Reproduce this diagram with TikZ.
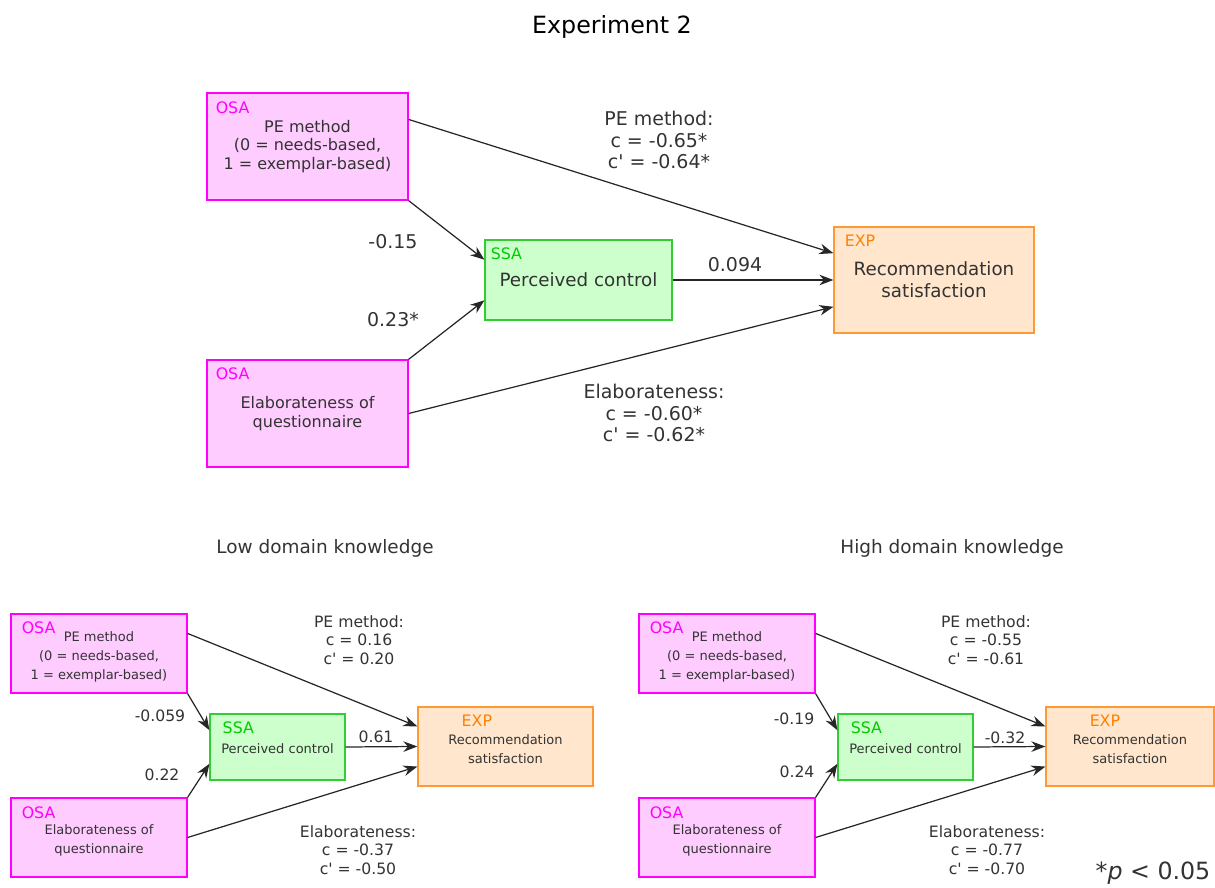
\documentclass[tikz,border=0pt]{standalone}
\usepackage{fontspec}
\setmainfont{DejaVu Sans}
\usepackage{xcolor}
\usetikzlibrary{arrows.meta, calc}

\definecolor{osafill}{HTML}{FFCCFF}
\definecolor{osaline}{HTML}{FF00FF}
\definecolor{ssafill}{HTML}{CCFFCC}
\definecolor{ssaline}{HTML}{33CC33}
\definecolor{ssatext}{HTML}{00CC00}
\definecolor{expfill}{HTML}{FFE6CC}
\definecolor{expline}{HTML}{FF9933}
\definecolor{exptext}{HTML}{FF8000}
\definecolor{txt}{HTML}{333333}

\tikzset{
  rbox/.style={rectangle, draw, line width=0.7pt, align=center, text=txt, inner sep=0pt},
  osabox/.style={rbox, fill=osafill, draw=osaline},
  ssabox/.style={rbox, fill=ssafill, draw=ssaline},
  expbox/.style={rbox, fill=expfill, draw=expline},
  tag/.style={anchor=west, inner sep=0pt, font=\fontsize{9}{10}\selectfont},
  osatag/.style={tag, text=osaline},
  ssatag/.style={tag, text=ssatext},
  exptag/.style={tag, text=exptext},
  bigtext/.style={font=\fontsize{9.1}{10.5}\selectfont},
  mediumtext/.style={font=\fontsize{10.4}{12.5}\selectfont},
  smalltext/.style={font=\fontsize{7.4}{10.8}\selectfont},
  bigweight/.style={text=txt, align=center, inner sep=0pt, font=\fontsize{10.8}{12.2}\selectfont},
  smallweight/.style={text=txt, align=center, inner sep=0pt, font=\fontsize{8.9}{10.5}\selectfont},
  heading/.style={text=txt, inner sep=0pt, font=\fontsize{10.5}{12}\selectfont},
  link/.style={-{Stealth[length=8pt,width=6pt]}, line width=0.7pt, draw=black!85}
}

\newcommand{\cq}{c\textquotesingle}
\newcommand{\dn}{\rule{0pt}{9pt}}

\begin{document}
\begin{tikzpicture}[x=0.02cm, y=-0.02cm]
  \useasboundingbox (0,0) rectangle (1215,888);

  \node[text=black, inner sep=0pt, font=\fontsize{13.5}{15}\selectfont] (title) at (612,27) {Experiment 2};

  % top model
  \node[osabox, bigtext, minimum width=4.02cm, minimum height=2.14cm,
        label={[osatag, xshift=0.18cm, yshift=-0.3cm]north west:OSA}] (osaA) at (307.5,146.5)
        {PE method\\(0 = needs-based,\\1 = exemplar-based)};
  \node[ssabox, mediumtext, minimum width=3.74cm, minimum height=1.6cm,
        label={[ssatag, xshift=0.12cm, yshift=-0.28cm]north west:SSA}] (ssa) at (578.5,280)
        {Perceived control};
  \node[expbox, mediumtext, minimum width=4cm, minimum height=2.12cm,
        label={[exptag, xshift=0.22cm, yshift=-0.28cm]north west:EXP}] (exp) at (934,280)
        {Recommendation\\satisfaction};
  \node[osabox, bigtext, minimum width=4.02cm, minimum height=2.14cm,
        label={[osatag, xshift=0.18cm, yshift=-0.28cm]north west:OSA}] (osaB) at (307.5,413.5)
        {Elaborateness of\\questionnaire};

  \draw[link] ($(osaA.north east)!.25!(osaA.south east)$) -- ($(exp.north west)!.25!(exp.south west)$);
  \draw[link] (osaA.south east) -- ($(ssa.north west)!.25!(ssa.south west)$);
  \draw[link] (osaB.north east) -- ($(ssa.north west)!.75!(ssa.south west)$);
  \draw[link] (osaB.east) -- ($(exp.north west)!.75!(exp.south west)$);
  \draw[link] (ssa.east) -- (exp.west);

  \node[bigweight] (wa) at (393,242) {-0.15};
  \node[bigweight] (wb) at (393,320) {0.23*};
  \node[bigweight] (wc) at (735,265) {0.094};
  \node[bigweight] (ca) at (659,140) {PE method:\\c = -0.65*\\\cq{} = -0.64*};
  \node[bigweight] (cb) at (654,413) {Elaborateness:\\c = -0.60*\\\cq{} = -0.62*};

  % low domain knowledge
  \node[heading] (lowtitle) at (325,548) {Low domain knowledge};
  \node[osabox, smalltext, minimum width=3.52cm, minimum height=1.58cm,
        label={[osatag, xshift=0.22cm, yshift=-0.28cm]north west:OSA}] (lowosaA) at (99,653.5)
        {\dn PE method\\(0 = needs-based,\\1 = exemplar-based)};
  \node[ssabox, smalltext, minimum width=2.7cm, minimum height=1.32cm,
        label={[ssatag, xshift=0.26cm, yshift=-0.28cm]north west:SSA}] (lowssa) at (277.5,747)
        {\rule{0pt}{7.5pt}Perceived control};
  \node[expbox, smalltext, minimum width=3.5cm, minimum height=1.58cm,
        label={[exptag, xshift=0.88cm, yshift=-0.28cm]north west:EXP}] (lowexp) at (505.5,746.5)
        {\dn Recommendation\\satisfaction};
  \node[osabox, smalltext, minimum width=3.52cm, minimum height=1.58cm,
        label={[osatag, xshift=0.22cm, yshift=-0.3cm]north west:OSA}] (lowosaB) at (99,837.5)
        {\dn Elaborateness of\\questionnaire};

  \draw[link] ($(lowosaA.north east)!.25!(lowosaA.south east)$) -- ($(lowexp.north west)!.25!(lowexp.south west)$);
  \draw[link] (lowosaA.south east) -- ($(lowssa.north west)!.25!(lowssa.south west)$);
  \draw[link] (lowosaB.north east) -- ($(lowssa.north west)!.75!(lowssa.south west)$);
  \draw[link] (lowosaB.east) -- ($(lowexp.north west)!.75!(lowexp.south west)$);
  \draw[link] (lowssa.east) -- (lowexp.west);

  \node[smallweight] (lowwa) at (160,716) {-0.059};
  \node[smallweight] (lowwb) at (162,775) {0.22};
  \node[smallweight] (lowwc) at (376,737) {0.61};
  \node[smallweight] (lowca) at (359,640) {PE method:\\c = 0.16\\\cq{} = 0.20};
  \node[smallweight] (lowcb) at (358,850) {Elaborateness:\\c = -0.37\\\cq{} = -0.50};

  % high domain knowledge
  \node[heading] (hightitle) at (952,548) {High domain knowledge};
  \node[osabox, smalltext, minimum width=3.52cm, minimum height=1.58cm,
        label={[osatag, xshift=0.22cm, yshift=-0.28cm]north west:OSA}] (highosaA) at (727,653.5)
        {\dn PE method\\(0 = needs-based,\\1 = exemplar-based)};
  \node[ssabox, smalltext, minimum width=2.7cm, minimum height=1.32cm,
        label={[ssatag, xshift=0.26cm, yshift=-0.28cm]north west:SSA}] (highssa) at (905.5,747)
        {\rule{0pt}{7.5pt}Perceived control};
  \node[expbox, smalltext, minimum width=3.36cm, minimum height=1.58cm,
        label={[exptag, xshift=0.88cm, yshift=-0.28cm]north west:EXP}] (highexp) at (1130,746.5)
        {\dn Recommendation\\satisfaction};
  \node[osabox, smalltext, minimum width=3.52cm, minimum height=1.58cm,
        label={[osatag, xshift=0.22cm, yshift=-0.3cm]north west:OSA}] (highosaB) at (727,837.5)
        {\dn Elaborateness of\\questionnaire};

  \draw[link] ($(highosaA.north east)!.25!(highosaA.south east)$) -- ($(highexp.north west)!.25!(highexp.south west)$);
  \draw[link] (highosaA.south east) -- ($(highssa.north west)!.25!(highssa.south west)$);
  \draw[link] (highosaB.north east) -- ($(highssa.north west)!.75!(highssa.south west)$);
  \draw[link] (highosaB.east) -- ($(highexp.north west)!.75!(highexp.south west)$);
  \draw[link] (highssa.east) -- (highexp.west);

  \node[smallweight] (highwa) at (794,719) {-0.19};
  \node[smallweight] (highwb) at (797,772) {0.24};
  \node[smallweight] (highwc) at (1005,738) {-0.32};
  \node[smallweight] (highca) at (986,640) {PE method:\\c = -0.55\\\cq{} = -0.61};
  \node[smallweight] (highcb) at (987,850) {Elaborateness:\\c = -0.77\\\cq{} = -0.70};

  \node[text=txt, inner sep=0pt, font=\fontsize{13.5}{15}\selectfont] (pval) at (1153,873) {*\textit{p} < 0.05};
\end{tikzpicture}
\end{document}
